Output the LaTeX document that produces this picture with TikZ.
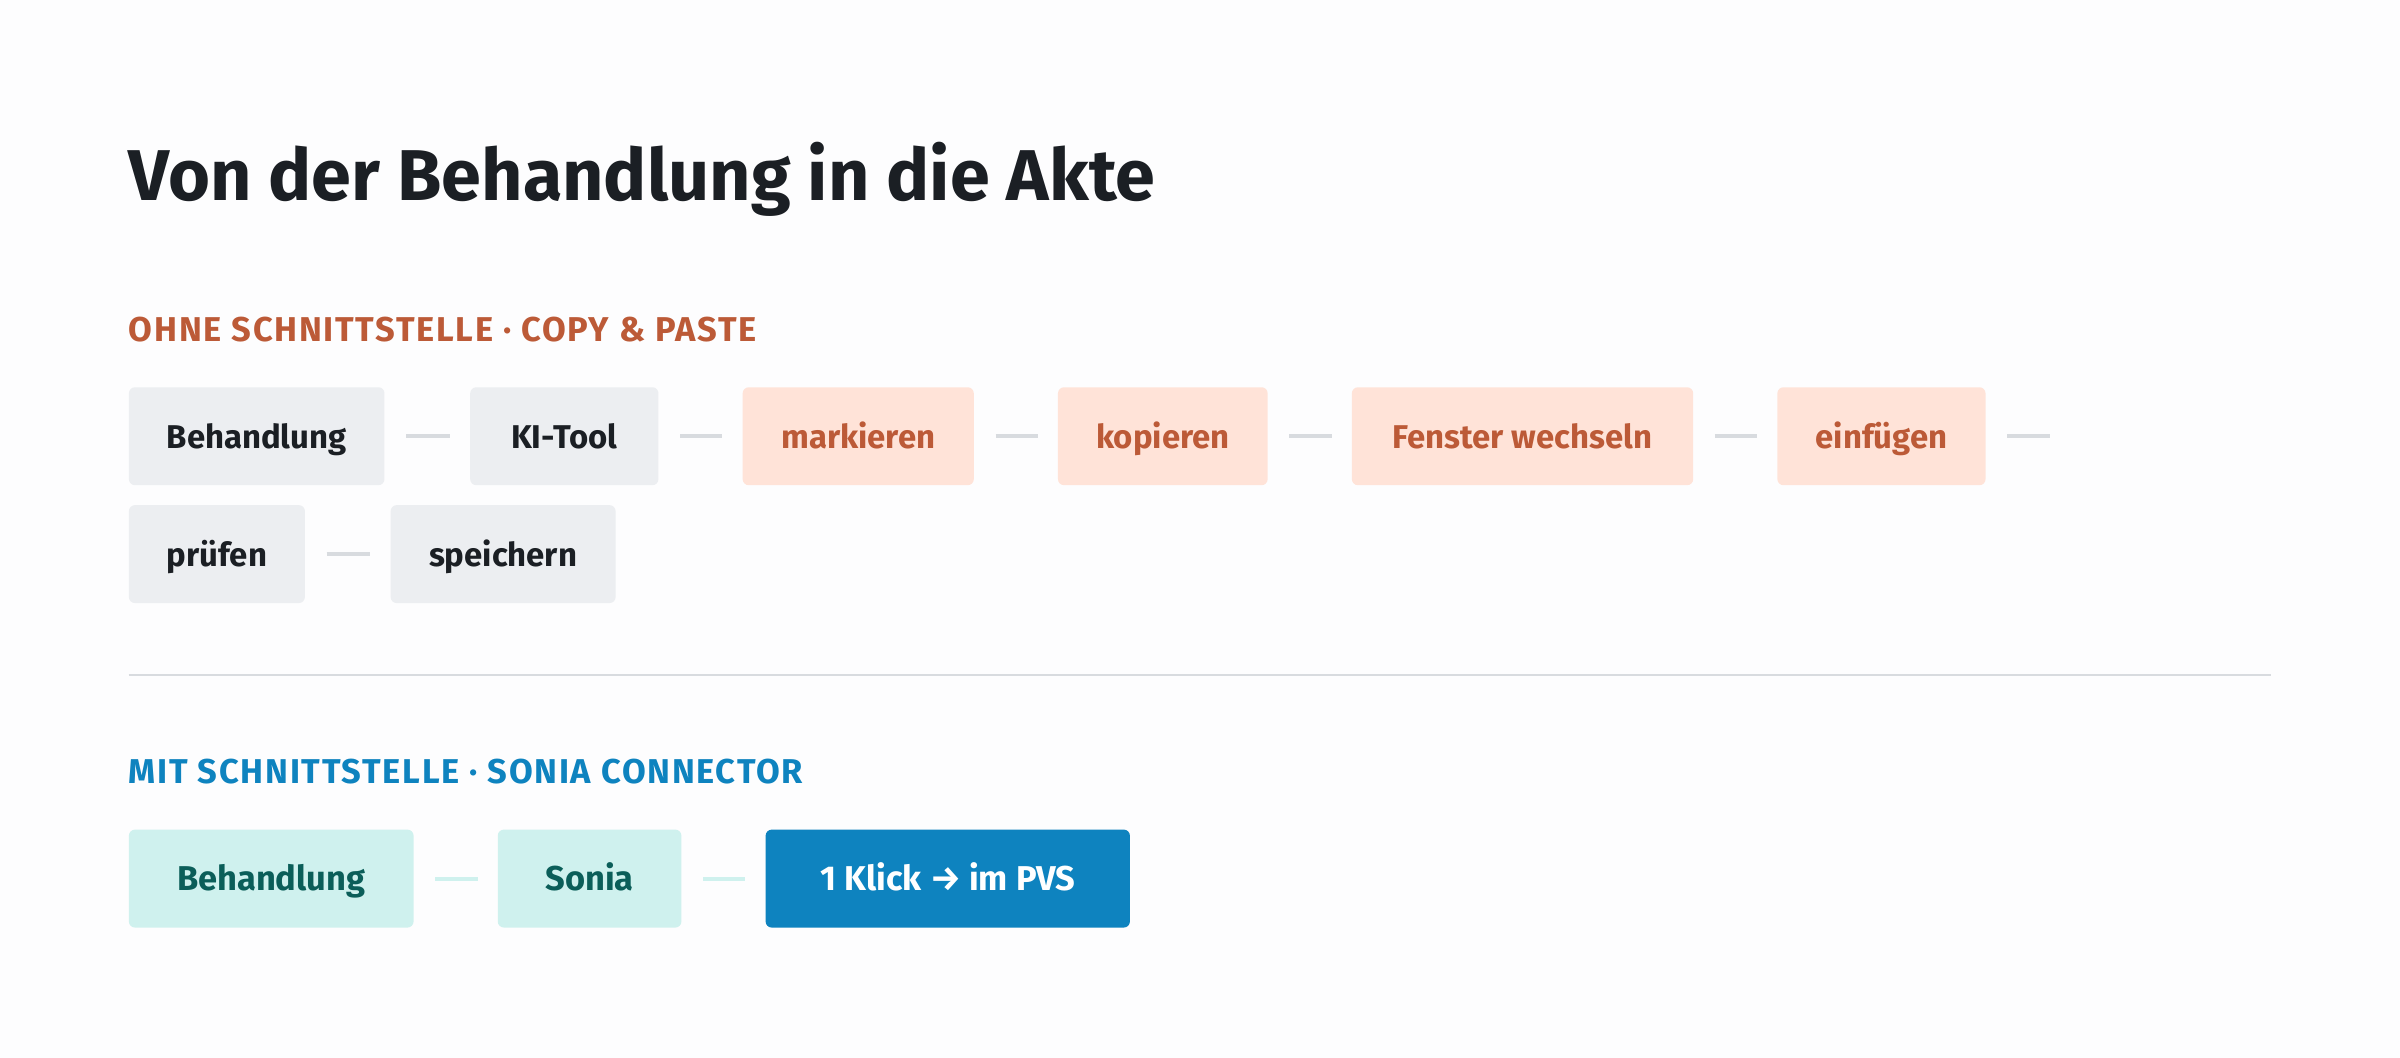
\documentclass[tikz,border=0pt]{standalone}
\usepackage{fontspec}
\setmainfont{Fira Sans}
\newfontfamily\titlefont{Fira Sans}
\newfontfamily\boxfont{Fira Sans}
\newfontfamily\labfont{Fira Sans}[LetterSpace=5]
\definecolor{bg}{HTML}{FDFDFE}
\definecolor{ink}{HTML}{1B1F24}
\definecolor{rust}{HTML}{BC5A37}
\definecolor{peach}{HTML}{FFE3D8}
\definecolor{greybox}{HTML}{ECEEF1}
\definecolor{greyline}{HTML}{D8DBDF}
\definecolor{blue}{HTML}{0E83BF}
\definecolor{tealbox}{HTML}{CFF1EE}
\definecolor{tealink}{HTML}{0B5E59}
\tikzset{
  stepbox/.style={rounded corners=4pt, minimum height=64pt, inner sep=0pt, text height=16pt, text depth=0pt, font=\boxfont\bfseries\fontsize{21.5}{24}\selectfont, anchor=west},
  bigstep/.style={stepbox, font=\boxfont\bfseries\fontsize{22.5}{26}\selectfont},
  greystep/.style={stepbox, fill=greybox, text=ink},
  peachstep/.style={stepbox, fill=peach, text=rust},
  tealstep/.style={bigstep, fill=tealbox, text=tealink},
  bluestep/.style={bigstep, fill=blue, text=white},
  link/.style={greyline, line width=2.5pt, shorten <=14pt, shorten >=13pt},
  teallink/.style={link, draw=tealbox},
  seclabel/.style={anchor=base west, inner sep=0pt, font=\labfont\bfseries\fontsize{22.5}{26}\selectfont},
}
\begin{document}
\begin{tikzpicture}[x=1pt, y=-1pt]
\fill[bg] (0,0) rectangle (1568,691);
\useasboundingbox (0,0) rectangle (1568,691);
\node[anchor=base west, inner sep=0pt, text=ink, font=\titlefont\bfseries\fontsize{47}{52}\selectfont] (title) at (84,131) {Von der Behandlung in die Akte};
\node[seclabel, text=rust] (sec1) at (84,223) {OHNE SCHNITTSTELLE · COPY \& PASTE};
% row 1
\node[greystep, minimum width=167pt] (b1) at (84,285) {Behandlung};
\node[greystep, minimum width=123pt] (b2) at (307,285) {KI-Tool};
\node[peachstep, minimum width=151pt] (b3) at (485,285) {markieren};
\node[peachstep, minimum width=137pt] (b4) at (691,285) {kopieren};
\node[peachstep, minimum width=223pt] (b5) at (883,285) {Fenster wechseln};
\node[peachstep, minimum width=136pt] (b6) at (1161,285) {einfügen};
\coordinate (e6) at (1352,285);
\draw[link] (b1.east) -- (b2.west);
\draw[link] (b2.east) -- (b3.west);
\draw[link] (b3.east) -- (b4.west);
\draw[link] (b4.east) -- (b5.west);
\draw[link] (b5.east) -- (b6.west);
\draw[link] (b6.east) -- (e6);
% row 2
\node[greystep, minimum width=115pt] (b7) at (84,362) {prüfen};
\node[greystep, minimum width=147pt] (b8) at (255,362) {speichern};
\draw[link] (b7.east) -- (b8.west);
% divider
\coordinate (d1) at (84,441);
\coordinate (d2) at (1484,441);
\draw[greyline, line width=1.2pt] (d1) -- (d2);
\node[seclabel, text=blue] (sec2) at (84,512) {MIT SCHNITTSTELLE · SONIA CONNECTOR};
% row 3
\node[tealstep, minimum width=186pt] (c1) at (84,574) {Behandlung};
\node[tealstep, minimum width=120pt] (c2) at (325,574) {Sonia};
\node[bluestep, minimum width=238pt] (c3) at (500,574) {1 Klick → im PVS};
\draw[teallink] (c1.east) -- (c2.west);
\draw[teallink] (c2.east) -- (c3.west);
\end{tikzpicture}
\end{document}
